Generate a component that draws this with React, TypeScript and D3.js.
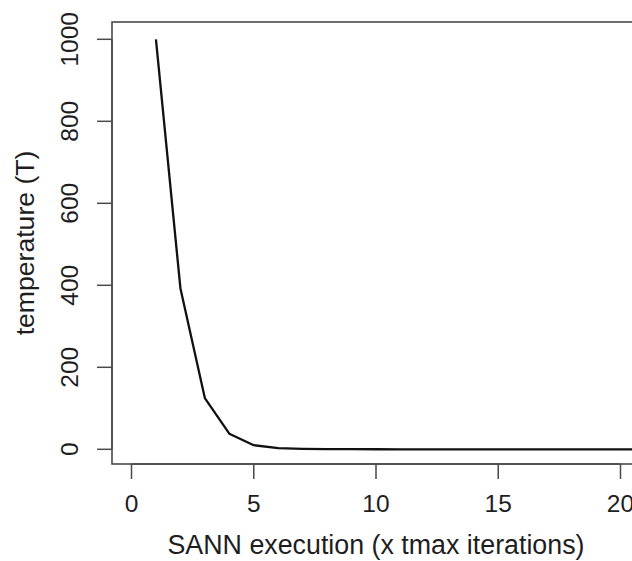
import React from "react";
import * as d3 from "d3";

// Data
const executions: number[] = [1, 2, 3, 4, 5, 6, 7, 8, 9, 10, 11, 12, 13, 14, 15, 16, 17, 18, 19, 20, 21, 22, 23, 24];
const temperature: number[] = [1000, 393, 125, 38, 10, 3, 1.2, 0.5, 0.2, 0.1, 0.05, 0.03, 0.02, 0.01, 0.01, 0.01, 0.01, 0.01, 0.01, 0, 0, 0, 0, 0];
const xTicks: number[] = [0, 5, 10, 15, 20];
const yTicks: number[] = [0, 200, 400, 600, 800, 1000];
const xLabel = "SANN execution (x tmax iterations)";
const yLabel = "temperature (T)";

const W = 632;
const H = 561;
const boxLeft = 112;
const boxTop = 22;
const boxBottom = 464;
const boxRight = 640;

export default function App() {
  const x = d3.scaleLinear().domain([0, 20]).range([131.5, 620.5]);
  const y = d3.scaleLinear().domain([0, 1000]).range([449.3, 39.3]);
  const pts: [number, number][] = executions.map((e, i) => [e, temperature[i]]);
  const line = d3
    .line<[number, number]>()
    .x((d) => x(d[0]))
    .y((d) => y(d[1]));
  const axisColor = "#4a4a4a";
  const textColor = "#1e1e1e";
  const font = "'Liberation Sans', Arial, Helvetica, sans-serif";

  return (
    <svg
      width={W}
      height={H}
      style={{ position: "absolute", left: 0, top: 0, background: "#fff" }}
      fontFamily={font}
    >
      <rect x={0} y={0} width={W} height={H} fill="#fff" />
      <defs>
        <clipPath id="plotclip">
          <rect x={boxLeft} y={boxTop} width={boxRight - boxLeft} height={boxBottom - boxTop} />
        </clipPath>
      </defs>
      {/* box */}
      <rect
        x={boxLeft}
        y={boxTop}
        width={boxRight - boxLeft}
        height={boxBottom - boxTop}
        fill="none"
        stroke={axisColor}
        strokeWidth={1.6}
      />
      {/* data line */}
      <path
        d={line(pts) || ""}
        fill="none"
        stroke="#111"
        strokeWidth={2.3}
        strokeLinejoin="round"
        clipPath="url(#plotclip)"
      />
      {/* y axis */}
      <g>
        <line x1={boxLeft} x2={boxLeft} y1={y(0)} y2={y(1000)} stroke={axisColor} strokeWidth={1.5} />
        {yTicks.map((t) => (
          <g key={"y" + t}>
            <line x1={97} x2={boxLeft} y1={y(t)} y2={y(t)} stroke={axisColor} strokeWidth={1.5} />
            <text
              transform={`translate(78,${y(t)}) rotate(-90)`}
              textAnchor="middle"
              fontSize={24.5}
              fill={textColor}
            >
              {t}
            </text>
          </g>
        ))}
      </g>
      {/* x axis */}
      <g>
        <line x1={x(0)} x2={Math.min(x(20), W)} y1={boxBottom} y2={boxBottom} stroke={axisColor} strokeWidth={1.5} />
        {xTicks.map((t) => (
          <g key={"x" + t}>
            <line x1={x(t)} x2={x(t)} y1={boxBottom} y2={479} stroke={axisColor} strokeWidth={1.5} />
            <text x={x(t)} y={512} textAnchor="middle" fontSize={24.5} fill={textColor}>
              {t}
            </text>
          </g>
        ))}
      </g>
      {/* axis titles */}
      <text x={x(10)} y={554} textAnchor="middle" fontSize={26.8} fill={textColor}>
        {xLabel}
      </text>
      <text
        transform={`translate(34,${(boxTop + boxBottom) / 2}) rotate(-90)`}
        textAnchor="middle"
        fontSize={26.6}
        fill={textColor}
      >
        {yLabel}
      </text>
    </svg>
  );
}
